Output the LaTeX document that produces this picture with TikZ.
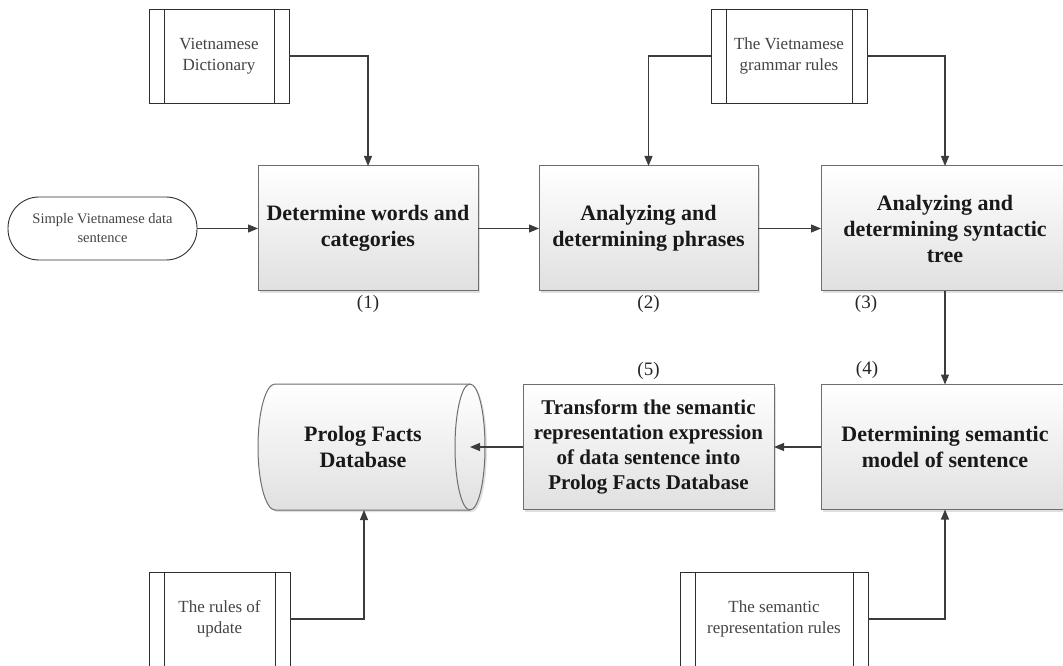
\documentclass[tikz,border=0pt]{standalone}
\usepackage{fontspec}
\setmainfont{Liberation Serif}
\usetikzlibrary{arrows.meta, positioning, calc, shadows}

\definecolor{boxline}{HTML}{6E6E6E}
\definecolor{boxgray}{HTML}{E0E0E0}
\definecolor{arrowgray}{HTML}{3C3C3C}
\definecolor{storeline}{HTML}{2E2E2E}
\definecolor{smalltext}{HTML}{444444}

\begin{document}
\begin{tikzpicture}[x=1pt, y=1pt]
    % --- Style Definitions ---
    \tikzset{
        step box/.style={
            draw=boxline,
            line width=1pt,
            top color=white,
            bottom color=boxgray,
            drop shadow={shadow xshift=2pt, shadow yshift=-2pt, opacity=0.25},
            minimum height=125pt,
            align=center,
            text=black!90,
            font=\fontsize{22}{26}\selectfont\bfseries,
            outer sep=0pt
        },
        store box/.style={
            draw=storeline,
            line width=0.9pt,
            fill=white,
            minimum height=94pt,
            align=center,
            text=smalltext,
            font=\fontsize{17}{21}\selectfont,
            outer sep=0pt,
            path picture={
                \draw[storeline, line width=0.9pt]
                    ([xshift=15pt]path picture bounding box.north west) --
                    ([xshift=15pt]path picture bounding box.south west)
                    ([xshift=-15pt]path picture bounding box.north east) --
                    ([xshift=-15pt]path picture bounding box.south east);
            }
        },
        input oval/.style={
            draw=storeline,
            line width=0.9pt,
            fill=white,
            rounded corners=31pt,
            minimum width=189pt,
            minimum height=63pt,
            align=center,
            text=smalltext,
            font=\fontsize{14.5}{19}\selectfont,
            outer sep=0pt
        },
        number label/.style={
            font=\fontsize{19}{22}\selectfont,
            text=black!85,
            inner sep=0pt
        },
        flow arrow/.style={
            -{Triangle[length=10pt, width=8pt]},
            line width=1.1pt,
            arrowgray
        }
    }

    % --- 0. Canvas ---
    \useasboundingbox (0,0) rectangle (1063,665);
    \clip (0,0) rectangle (1063,665);

    % --- 1. Upper row ---
    \node[input oval] (sentence) at (102.5,436.5) {Simple Vietnamese data\\sentence};
    \node[step box, minimum width=220pt] (words) at (368,436.5) {Determine words and\\categories};
    \node[step box, minimum width=219pt] (phrases) at (648.5,436.5) {Analyzing and\\determining phrases};
    \node[step box, minimum width=248pt] (syntax) at (945,436.5) {Analyzing and\\determining syntactic\\tree};

    % --- 2. Lower row ---
    \node[step box, minimum width=248pt] (semantic) at (945,218) {Determining semantic\\model of sentence};
    \node[step box, minimum width=251pt, font=\fontsize{21}{25}\selectfont\bfseries] (transform) at (648.5,218)
        {Transform the semantic\\representation expression\\of data sentence into\\Prolog Facts Database};

    % Database drawn as a lying cylinder
    \draw[line width=1pt, draw=boxline, top color=white, bottom color=boxgray,
          drop shadow={shadow xshift=2pt, shadow yshift=-2pt, opacity=0.25}]
        (275,281) arc[start angle=90, end angle=270, x radius=17, y radius=63]
        -- (470,155) arc[start angle=-90, end angle=90, x radius=15, y radius=63] -- cycle;
    \draw[line width=1pt, draw=boxline]
        (470,281) arc[start angle=90, end angle=270, x radius=15, y radius=63];
    \node[align=center, text=black!90, font=\fontsize{22}{26}\selectfont\bfseries] (prolog) at (363,218) {Prolog Facts\\Database};
    \coordinate (prolog in) at (470,218);
    \coordinate (prolog base) at (364,155);

    % --- 3. Stores ---
    \node[store box, minimum width=140pt] (dict) at (219,609) {Vietnamese\\Dictionary};
    \node[store box, minimum width=156pt] (grammar) at (789,609) {The Vietnamese\\grammar rules};
    \node[store box, minimum width=141pt] (update) at (219.5,46) {The rules of\\update};
    \node[store box, minimum width=188pt] (semrules) at (774,46) {The semantic\\representation rules};

    % --- 4. Step numbers ---
    \node[number label, below=4pt of words] (n1) {(1)};
    \node[number label, below=4pt of phrases] (n2) {(2)};
    \node[number label] (n3) at ([xshift=45pt, yshift=-13pt]syntax.south west) {(3)};
    \node[number label] (n4) at ([xshift=46pt, yshift=15pt]semantic.north west) {(4)};
    \node[number label, above=5pt of transform] (n5) {(5)};

    % --- 5. Connectors ---
    \draw[flow arrow] (sentence) -- (words);
    \draw[flow arrow] (words) -- (phrases);
    \draw[flow arrow] (phrases) -- (syntax);
    \draw[flow arrow] (syntax) -- (semantic);
    \draw[flow arrow] (semantic) -- (transform);
    \draw[flow arrow] (transform.west) -- (prolog in);

    \draw[flow arrow] (dict.east) -| (words.north);
    \draw[flow arrow] (grammar.west) -| (phrases.north);
    \draw[flow arrow] (grammar.east) -| (syntax.north);
    \draw[flow arrow] (update.east) -| (prolog base);
    \draw[flow arrow] (semrules.east) -| (semantic.south);

\end{tikzpicture}
\end{document}
